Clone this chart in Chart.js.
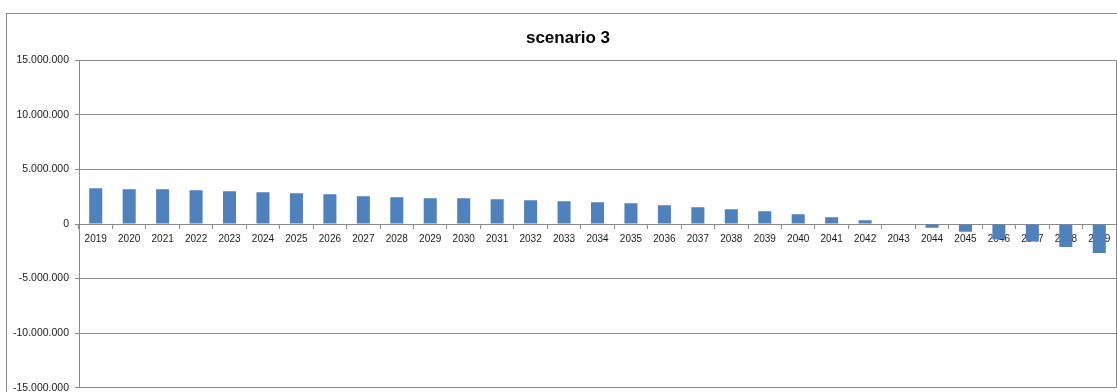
<!DOCTYPE html>
<html>
<head>
<meta charset="utf-8">
<script src="https://cdn.jsdelivr.net/npm/chart.js@4"></script>
<style>
  html, body { margin: 0; padding: 0; background: #fff; overflow: hidden; }
  #frame { position: absolute; left: 6px; top: 13px; width: 1300px; height: 600px; border: 1px solid #8a8a8a; }
  #stockChart { position: absolute; left: 0; top: 0; }
</style>
</head>
<body>
<div id="frame"></div>
<canvas id="stockChart" width="1136" height="400"></canvas>
<script>
const ctx = document.getElementById("stockChart");

// anni e valori
const years = ["2019", "2020", "2021", "2022", "2023", "2024", "2025", "2026", "2027", "2028",
  "2029", "2030", "2031", "2032", "2033", "2034", "2035", "2036", "2037", "2038",
  "2039", "2040", "2041", "2042", "2043", "2044", "2045", "2046", "2047", "2048", "2049"];
const values = [3290000, 3190000, 3190000, 3100000, 3010000, 2920000, 2830000, 2730000, 2550000, 2460000,
  2370000, 2370000, 2270000, 2180000, 2090000, 2000000, 1900000, 1720000, 1540000, 1350000,
  1170000, 890000, 620000, 340000, 0, -350000, -700000, -1400000, -1600000, -2100000, -2650000];
const yMin = -15000000;
const yMax = 15000000;
const yStep = 5000000;

// 15000000 -> "15.000.000"
function fmt(v) {
  const s = Math.abs(v).toString().replace(/\B(?=(\d{3})+(?!\d))/g, ".");
  return (v < 0 ? "-" : "") + s;
}

// bordo destro dell'area del grafico
const plotBorder = {
  id: "plotBorder",
  afterDraw(chart) {
    const a = chart.chartArea;
    const c = chart.ctx;
    c.save();
    c.strokeStyle = "#8a8a8a";
    c.lineWidth = 1;
    c.beginPath();
    c.moveTo(Math.round(a.right) + 0.5, a.top);
    c.lineTo(Math.round(a.right) + 0.5, a.bottom);
    c.stroke();
    c.restore();
  }
};

const chart = new Chart(ctx, {
  type: "bar",
  data: {
    labels: years,
    datasets: [{
      label: "scenario 3",
      data: values,
      backgroundColor: "#4f81bd",
      borderWidth: 0,
      barPercentage: 0.39,
      categoryPercentage: 1,
    }],
  },
  options: {
    responsive: false,
    animation: false,
    layout: { padding: { left: 0, right: 0, top: 0, bottom: 5 } },
    plugins: {
      legend: { display: false },
      tooltip: { enabled: false },
      title: {
        display: true,
        text: "scenario 3",
        color: "#000",
        font: { family: "Liberation Sans", size: 17, weight: "bold" },
        padding: { top: 28, bottom: 12 },
      },
    },
    scales: {
      x: {
        position: { y: 0 },
        z: 1,
        offset: true,
        grid: {
          offset: true,
          drawOnChartArea: false,
          drawTicks: true,
          tickLength: 4,
          color: "#8a8a8a",
        },
        border: { display: true, color: "#8a8a8a" },
        ticks: {
          color: "#1a1a1a",
          font: { family: "Liberation Sans", size: 10 },
          padding: 5,
          maxRotation: 0,
          autoSkip: false,
        },
      },
      y: {
        min: yMin,
        max: yMax,
        afterFit(scale) { scale.width = 79; },
        grid: { color: "#8a8a8a", tickLength: 4 },
        border: { display: true, color: "#8a8a8a" },
        ticks: {
          stepSize: yStep,
          color: "#1a1a1a",
          font: { family: "Liberation Sans", size: 10.5 },
          padding: 6,
          callback: (v) => fmt(v),
        },
      },
      // spazio vuoto a destra (fuori dalla finestra)
      yRight: {
        position: "right",
        min: yMin,
        max: yMax,
        afterFit(scale) { scale.width = 20; },
        grid: { display: false },
        border: { display: false },
        ticks: { display: false },
      },
    },
  },
  plugins: [plotBorder],
});
</script>
</body>
</html>
